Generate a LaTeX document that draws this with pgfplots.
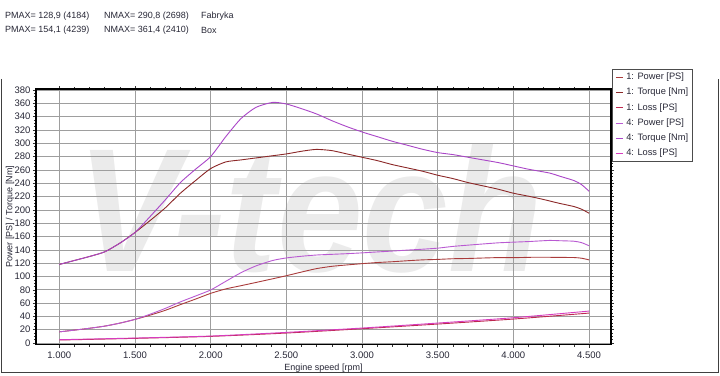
\documentclass[border=0pt]{standalone}
\usepackage{pgfplots}
\pgfplotsset{compat=1.18}
\usepackage{pgfplotstable}
\usepackage{fontspec}
\setmainfont{Liberation Sans}
\definecolor{rp}{RGB}{170,60,60}
\definecolor{rt}{RGB}{140,40,40}
\definecolor{rl}{RGB}{190,40,80}
\definecolor{pp}{RGB}{185,90,210}
\definecolor{pt}{RGB}{170,70,200}
\definecolor{pl}{RGB}{215,60,190}
\definecolor{txt}{RGB}{40,40,55}

\pgfplotstableread{
rpm torque power
1000 118 16.8
1100 124 19.4
1200 130 22.2
1300 137 25.4
1400 150 29.9
1500 166 35.5
1600 184 41.9
1700 203 49.1
1800 225 57.7
1900 244 66.0
2000 262 74.6
2100 272 81.3
2200 275 86.1
2300 278 91.0
2400 281 96.0
2500 284 101.1
2600 288 106.6
2698 290.8 111.7
2800 289 115.2
2900 284 117.3
3000 279 119.2
3100 274 120.9
3200 268 122.1
3300 263 123.6
3400 258 124.9
3500 252 125.6
3600 247 126.6
3700 241 127.0
3800 236 127.7
3900 231 128.3
4000 225 128.2
4100 220.5 128.7
4184 216.4 128.9
4300 210 128.6
4400 205 128.4
4450 201 127.4
4500 195 124.9
}\fabdata

\pgfplotstableread{
rpm torque power
1000 118 16.8
1100 124 19.4
1200 130 22.2
1300 137 25.4
1400 150 29.9
1500 166 35.5
1600 190 43.3
1700 215 52.0
1800 241 61.8
1900 261 70.6
2000 280 79.7
2100 310 92.7
2200 337 105.6
2300 354 115.9
2410 361.4 124.0
2500 359 127.8
2600 352 130.3
2700 344 132.2
2800 334 133.2
2900 325 134.2
3000 317 135.4
3100 310 136.8
3200 303 138.1
3300 297 139.6
3400 291 140.9
3500 286 142.5
3600 283 145.1
3700 279 147.0
3800 275 148.8
3900 271 150.5
4000 266 151.5
4100 261 152.4
4239 255.3 154.1
4300 251 153.7
4400 244 152.9
4450 238 150.8
4500 228 146.1
}\boxdata

\pgfplotstableread{
rpm fab box
1000 4.5 5.0
1500 7.0 7.5
2000 10.0 10.5
2500 15.0 16.0
3000 21.5 22.5
3500 28.5 30.0
4000 36.0 38.0
4500 45.0 48.0
}\lossdata

\begin{document}
\begin{tikzpicture}[x=1pt,y=1pt]
\path[fill=white] (0,0) rectangle (720,374);
% watermark
\node[text=black!8, inner sep=0, xscale=1.4, yscale=1.6] at (310,165)
  {\fontsize{110}{110}\selectfont\bfseries\itshape V-tech};
% header
\node[anchor=west, text=txt, inner sep=0] at (5,358) {\fontsize{9}{9}\selectfont PMAX= 128,9 (4184)};
\node[anchor=west, text=txt, inner sep=0] at (104,358) {\fontsize{9}{9}\selectfont NMAX= 290,8 (2698)};
\node[anchor=west, text=txt, inner sep=0] at (201,358) {\fontsize{9}{9}\selectfont Fabryka};
\node[anchor=west, text=txt, inner sep=0] at (5,344) {\fontsize{9}{9}\selectfont PMAX= 154,1 (4239)};
\node[anchor=west, text=txt, inner sep=0] at (104,344) {\fontsize{9}{9}\selectfont NMAX= 361,4 (2410)};
\node[anchor=west, text=txt, inner sep=0] at (201,344) {\fontsize{9}{9}\selectfont Box};
% outer frame
\draw[black!75, line width=1pt] (1,295) -- (1,2) -- (718,2) -- (718,295);
\begin{axis}[
  at={(36pt,29.5pt)}, anchor=south west,
  scale only axis, width=575pt, height=255.5pt,
  xmin=846, xmax=4645, ymin=-2.2, ymax=381.5,
  xtick={1000,1500,...,4500}, ytick={0,20,...,380},
  minor x tick num=4, minor y tick num=3,
  tick align=outside, major tick length=3pt, minor tick length=2pt,
  scaled x ticks=false,
  /pgf/number format/.cd, 1000 sep={.}, assume math mode=true, /pgfplots/.cd,
  grid=major, major grid style={black!38, line width=0.6pt},
  axis line style={black, line width=1.2pt},
  tick style={black!80, line width=0.5pt},
  every tick label/.append style={font=\fontsize{9.5}{9.5}\selectfont, text=txt},
  yticklabel style={xshift=1pt},
  xticklabel style={yshift=-1pt},
  xlabel={Engine speed [rpm]}, ylabel={Power [PS] / Torque [Nm]},
  label style={font=\fontsize{9}{9}\selectfont, text=txt},
  xlabel style={at={(axis description cs:0.5,-0.092)}, anchor=center},
  ylabel style={at={(axis description cs:-0.0452,0.5)}, anchor=center},
  legend style={at={(1,1)}, anchor=north west, xshift=1pt, yshift=20pt,
    font=\fontsize{9.3}{10}\selectfont, text=txt, draw=black!70, line width=0.8pt,
    row sep=4.8pt, inner xsep=3pt, inner ysep=2.5pt,
    nodes={inner sep=1pt, text height=6.5pt, text depth=2pt}},
  legend cell align=left,
  legend image code/.code={\draw[#1, line width=0.9pt] (0pt,0pt) -- (7pt,0pt);},
  every axis plot/.append style={line width=0.9pt, mark=none, smooth, tension=0.4},
]
\addplot[rp] table[x=rpm, y=power] {\fabdata};
\addlegendentry{\hspace{2pt}1: Power [PS]}
\addplot[rt] table[x=rpm, y=torque] {\fabdata};
\addlegendentry{\hspace{2pt}1: Torque [Nm]\hspace{7pt}}
\addplot[rl] table[x=rpm, y=fab] {\lossdata};
\addlegendentry{\hspace{2pt}1: Loss [PS]}
\addplot[pp] table[x=rpm, y=power] {\boxdata};
\addlegendentry{\hspace{2pt}4: Power [PS]}
\addplot[pt] table[x=rpm, y=torque] {\boxdata};
\addlegendentry{\hspace{2pt}4: Torque [Nm]}
\addplot[pl] table[x=rpm, y=box] {\lossdata};
\addlegendentry{\hspace{2pt}4: Loss [PS]}
\end{axis}
\end{tikzpicture}
\end{document}
